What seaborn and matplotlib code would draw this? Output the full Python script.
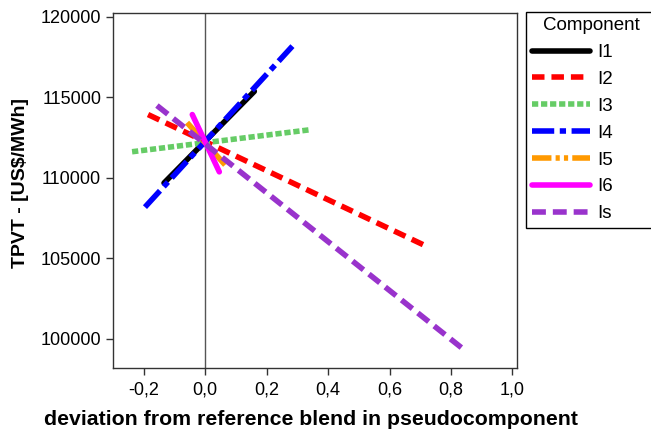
import matplotlib
matplotlib.use("Agg")
import matplotlib.pyplot as plt
import numpy as np
import pandas as pd
import seaborn as sns

# line endpoints (deviation, TPVT)
components = ["I1", "I2", "I3", "I4", "I5", "I6", "Is"]
x_start = [-0.134, -0.186, -0.238, -0.196, -0.059, -0.042, -0.157]
x_end = [0.160, 0.728, 0.343, 0.284, 0.065, 0.046, 0.848]
y_start = [109690, 113940, 111630, 108190, 113440, 113940, 114500]
y_end = [115380, 105690, 113000, 118190, 110810, 110380, 99250]

colors = ["#000000", "#FF0000", "#66CC66", "#0000FF", "#FF9900", "#FF00FF", "#9933CC"]
dash_styles = ["", (9, 5), (4.5, 2), (16, 4, 4.5, 4), (14, 3, 3, 3, 3, 3), "", (10, 5)]

rows = []
for c, x0, x1, y0, y1 in zip(components, x_start, x_end, y_start, y_end):
    rows.append({"Component": c, "dev": x0, "tpvt": y0})
    rows.append({"Component": c, "dev": x1, "tpvt": y1})
df = pd.DataFrame(rows)

sns.set_style("ticks")
plt.rcParams["font.family"] = ["Liberation Sans", "DejaVu Sans"]
plt.rcParams["lines.scale_dashes"] = False
plt.rcParams["text.color"] = "black"
plt.rcParams["axes.labelcolor"] = "black"
plt.rcParams["xtick.color"] = "black"
plt.rcParams["ytick.color"] = "black"

fig = plt.figure(figsize=(6.51, 4.30), dpi=100)
ax = fig.add_axes([0.1736, 0.1449, 0.6206, 0.8256])

ax.axvline(0, color="#555555", linewidth=1, zorder=1)

sns.lineplot(data=df, x="dev", y="tpvt", hue="Component", style="Component",
             palette=dict(zip(components, colors)),
             dashes=dict(zip(components, dash_styles)),
             estimator=None, sort=False, linewidth=4, legend=False, ax=ax)

handles = ax.get_lines()[1:]
ax.legend(handles, components, title="Component", loc="upper left",
          bbox_to_anchor=(0.808, 0.0, 0.2, 0.973), bbox_transform=fig.transFigure,
          mode="expand", borderaxespad=0, borderpad=0.3, fontsize=13.5,
          title_fontsize=13.5, handlelength=3.1, handletextpad=0.4,
          labelspacing=0.52, frameon=True, fancybox=False, edgecolor="black",
          framealpha=1)

ax.set_xlim(-0.3, 1.015)
ax.set_ylim(98217, 120267)
xt = [-0.2, 0.0, 0.2, 0.4, 0.6, 0.8, 1.0]
ax.set_xticks(xt)
ax.set_xticklabels([f"{v:.1f}".replace(".", ",") for v in xt])
ax.set_yticks([100000, 105000, 110000, 115000, 120000])
ax.tick_params(labelsize=13, length=5, width=1, color="#333333")
ax.tick_params(axis="x", pad=5)
for s in ax.spines.values():
    s.set_visible(True)
    s.set_color("#333333")
    s.set_linewidth(1)

ax.set_xlabel("deviation from reference blend in pseudocomponent", fontsize=15.3,
              fontweight="bold")
ax.set_ylabel("TPVT - [US$/MWh]", fontsize=14, fontweight="bold")
ax.xaxis.set_label_coords(0.49, -0.118)
ax.yaxis.set_label_coords(-0.208, 0.52)

fig.savefig("out.png", dpi=100)
